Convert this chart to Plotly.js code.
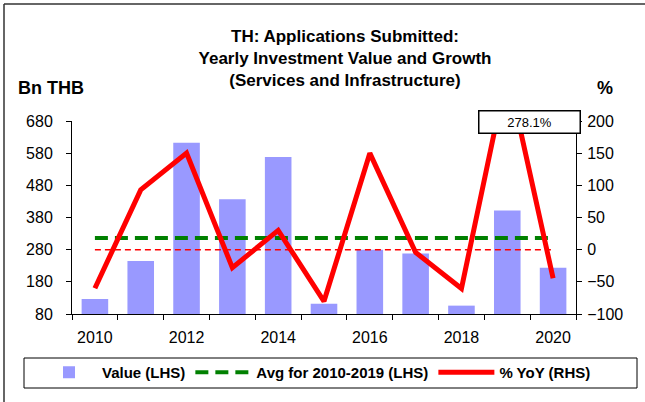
<!DOCTYPE html>
<html>
<head>
<meta charset="utf-8">
<script src="https://cdn.plot.ly/plotly-3.0.1.min.js"></script>
<style>html,body{margin:0;padding:0;background:#fff;}#chart{width:645px;height:402px;}</style>
</head>
<body>
<div id="chart"></div>
<script>
// ---- data ----
const years = [2010, 2011, 2012, 2013, 2014, 2015, 2016, 2017, 2018, 2019, 2020];
const valueBnTHB = [127, 245, 612, 437, 568, 112, 280, 268, 106, 402, 224];
const avg2010to2019 = [316, 316, 316, 316, 316, 316, 316, 316, 316, 316, 316];
const yoyPct = [-60, 93, 150, -28, 30, -80.3, 150, -4.3, -60.4, 278.1, -44.3];
const zeroRef = [0, 0, 0, 0, 0, 0, 0, 0, 0, 0, 0];
const xTickYears = [2010, 2012, 2014, 2016, 2018, 2020];
const leftTicks = [80, 180, 280, 380, 480, 580, 680];
const rightTicks = [-100, -50, 0, 50, 100, 150, 200];
const seriesNames = ['Value (LHS)', 'Avg for 2010-2019 (LHS)', '% YoY (RHS)'];
const titleLines = ['TH: Applications Submitted:', 'Yearly Investment Value and Growth', '(Services and Infrastructure)'];

const FONT = 'Arial, "Liberation Sans", sans-serif';
const W = 645, H = 402;
const L = 72, R = 69, T = 121, B = 88;
const pw = W - L - R, ph = H - T - B;
const px = x => (x - L) / pw;          // pixel -> paper x
const py = y => (H - B - y) / ph;      // pixel -> paper y

const traces = [
  {type: 'bar', x: years, y: valueBnTHB, name: seriesNames[0], yaxis: 'y',
   width: 0.58, marker: {color: '#9999FF'}, hoverinfo: 'x+y'},
  {type: 'scatter', mode: 'lines', x: years, y: zeroRef, yaxis: 'y2', showlegend: false,
   line: {color: '#FF0000', width: 1.5, dash: '6px,4px'}, hoverinfo: 'skip'},
  {type: 'scatter', mode: 'lines', x: years, y: avg2010to2019, name: seriesNames[1], yaxis: 'y',
   line: {color: '#008000', width: 4, dash: '13px,7px'}},
  {type: 'scatter', mode: 'lines', x: years, y: yoyPct, name: seriesNames[2], yaxis: 'y2',
   line: {color: '#FF0000', width: 5}}
];

const i2019 = years.indexOf(2019);

const layout = {
  width: W, height: H,
  margin: {l: L, r: R, t: T, b: B, pad: 0, autoexpand: false},
  paper_bgcolor: '#fff', plot_bgcolor: '#fff',
  font: {family: FONT, color: '#000', size: 16},
  showlegend: true,
  title: {
    text: titleLines.join('<br>'),
    font: {family: FONT, size: 17, color: '#000', weight: 'bold'},
    x: 345 / W, xref: 'container', xanchor: 'center',
    y: 1 - 42 / H, yref: 'container', yanchor: 'top'
  },
  xaxis: {
    range: [2009.5, 2020.5], tickmode: 'array', tickvals: xTickYears,
    ticktext: xTickYears.map(String), ticks: '', showgrid: false, zeroline: false,
    showline: true, linecolor: '#000', linewidth: 1,
    tickfont: {family: FONT, size: 16, color: '#000'}, ticklabelstandoff: 9,
    minor: {tick0: 2009.5, dtick: 1, ticks: 'outside', ticklen: 5, tickcolor: '#000', tickwidth: 1, showgrid: false},
    fixedrange: true
  },
  yaxis: {
    range: [80, 680], tickmode: 'array', tickvals: leftTicks, ticks: 'outside', ticklen: 5,
    tickcolor: '#000', showgrid: false, zeroline: false, showline: true, linecolor: '#000', linewidth: 1,
    tickfont: {family: FONT, size: 16, color: '#000'}, ticklabelstandoff: 10, fixedrange: true
  },
  yaxis2: {
    range: [-100, 200], overlaying: 'y', side: 'right', tickmode: 'array', tickvals: rightTicks,
    ticks: 'outside', ticklen: 5, tickcolor: '#000', showgrid: false, zeroline: false,
    showline: true, linecolor: '#000', linewidth: 1,
    tickfont: {family: FONT, size: 16, color: '#000'}, ticklabelstandoff: 2, fixedrange: true
  },
  legend: {
    orientation: 'h', xref: 'paper', yref: 'paper',
    x: px(36), xanchor: 'left', y: py(356), yanchor: 'top',
    font: {family: FONT, size: 15, color: '#000', weight: 'bold'},
    itemwidth: 56,
    bgcolor: 'rgba(0,0,0,0)', borderwidth: 0, traceorder: 'normal'
  },
  shapes: [
    // legend frame
    {type: 'rect', xref: 'paper', yref: 'paper', x0: px(24), x1: px(637), y0: py(388), y1: py(358),
     line: {color: '#000', width: 1}, fillcolor: 'rgba(0,0,0,0)', layer: 'below'},
    // outer chart border (left and top)
    {type: 'line', xref: 'paper', yref: 'paper', x0: px(4), x1: px(4), y0: py(4), y1: py(410),
     line: {color: '#333', width: 1.5}},
    {type: 'line', xref: 'paper', yref: 'paper', x0: px(4), x1: px(650), y0: py(4), y1: py(4),
     line: {color: '#333', width: 1.5}}
  ],
  annotations: [
    {text: '<b>Bn THB</b>', xref: 'paper', yref: 'paper', x: px(51), y: py(88), showarrow: false,
     xanchor: 'center', yanchor: 'middle', font: {family: FONT, size: 18, color: '#000'}},
    {text: '<b>%</b>', xref: 'paper', yref: 'paper', x: px(605), y: py(88), showarrow: false,
     xanchor: 'center', yanchor: 'middle', font: {family: FONT, size: 18, color: '#000'}},
    {text: yoyPct[i2019].toFixed(1) + '%', xref: 'paper', yref: 'paper', x: px(529), y: py(122),
     showarrow: false, xanchor: 'center', yanchor: 'middle', width: 98, height: 19,
     bgcolor: '#fff', bordercolor: '#000', borderwidth: 1.5, borderpad: 1,
     font: {family: FONT, size: 13, color: '#000'}}
  ]
};

Plotly.newPlot('chart', traces, layout, {displayModeBar: false, staticPlot: true});
</script>
</body>
</html>
